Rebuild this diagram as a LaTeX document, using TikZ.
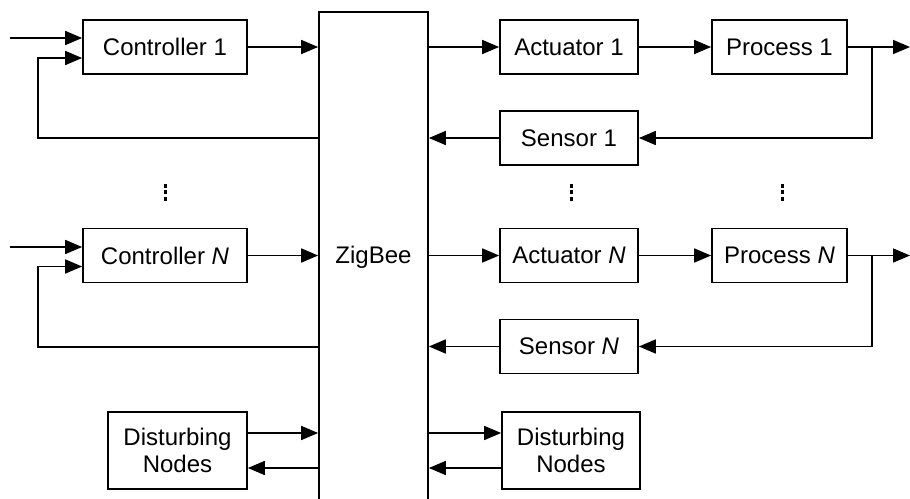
\documentclass[tikz,border=0pt]{standalone}
\usepackage{fontspec}
\setmainfont{Liberation Sans}
\usetikzlibrary{arrows.meta,calc}
\begin{document}
\begin{tikzpicture}[x=1pt,y=-1pt,
  every node/.style={font=\fontsize{24}{27}\selectfont},
  blk/.style={draw,line width=1.7pt,minimum height=54pt,inner sep=0pt,align=center},
  conn/.style={line width=1.7pt},
  arr/.style={conn,-{Triangle[length=17pt,width=14pt]}},
  vdot/.style={fill,rectangle,inner sep=0pt,minimum width=3pt,minimum height=4pt}]
\clip (0,0) rectangle (910,498);
% ZigBee
\node[draw,line width=1.7pt,minimum width=109pt,minimum height=510pt,inner sep=0pt,anchor=north] (zb) at (373.5,11) {};
\node (zbl) at (373.5,257) {ZigBee};
% row 1
\node[blk,minimum width=164pt] (c1) at (165,47) {Controller 1};
\node[blk,minimum width=138pt] (a1) at (569,47) {Actuator 1};
\node[blk,minimum width=135pt] (p1) at (779.5,47) {Process 1};
\node[blk,minimum width=138pt] (s1) at (569,138) {Sensor 1};
% row N
\node[blk,minimum width=164pt] (cN) at (165,255.5) {Controller \textit{N}};
\node[blk,minimum width=138pt] (aN) at (569,255.5) {Actuator \textit{N}};
\node[blk,minimum width=135pt] (pN) at (779.5,255.5) {Process \textit{N}};
\node[blk,minimum width=138pt] (sN) at (569,346.5) {Sensor \textit{N}};
% disturbing
\node[blk,minimum width=139pt,minimum height=77pt] (d1) at (177.5,450.5) {Disturbing\\Nodes};
\node[blk,minimum width=138pt,minimum height=77pt] (d2) at (571,450.5) {Disturbing\\Nodes};
% dots
\foreach \x/\n in {165/a,571/b,782/c}{
  \node[vdot] (dt\n1) at (\x,185.5) {};
  \node[vdot] (dt\n2) at (\x,192) {};
  \node[vdot] (dt\n3) at (\x,198.5) {};
}
% coordinates
\coordinate (in1) at (10,38);
\coordinate (inN) at (10,247);
\coordinate (fb1) at (38,138);
\coordinate (fbN) at (38,347);
\coordinate (br1) at (872,47);
\coordinate (brN) at (872,255.5);
\coordinate (out1) at (910,47);
\coordinate (outN) at (910,255.5);
% row 1 connectors
\draw[arr] (in1) -- (in1 -| c1.west);
\draw[arr] (zb.west |- fb1) -- (fb1) |- ($(c1.west)+(0,11)$);
\draw[arr] (c1.east) -- (c1.east -| zb.west);
\draw[arr] (zb.east |- a1) -- (a1.west);
\draw[arr] (a1.east) -- (p1.west);
\draw[arr] (p1.east) -- (out1);
\draw[arr] (br1) |- (s1.east);
\draw[arr] (s1.west) -- (s1.west -| zb.east);
% row N connectors
\draw[arr] (inN) -- (inN -| cN.west);
\draw[arr] (zb.west |- fbN) -- (fbN) |- ($(cN.west)+(0,11)$);
\draw[arr] (cN.east) -- (cN.east -| zb.west);
\draw[arr] (zb.east |- aN) -- (aN.west);
\draw[arr] (aN.east) -- (pN.west);
\draw[arr] (pN.east) -- (outN);
\draw[arr] (brN) |- (sN.east);
\draw[arr] (sN.west) -- (sN.west -| zb.east);
% disturbing connectors
\draw[arr] ($(d1.east)+(0,-17.5)$) -- ($(d1.east -| zb.west)+(0,-17.5)$);
\draw[arr] ($(d1.east -| zb.west)+(0,17.5)$) -- ($(d1.east)+(0,17.5)$);
\draw[arr] ($(d2.west -| zb.east)+(0,-17.5)$) -- ($(d2.west)+(0,-17.5)$);
\draw[arr] ($(d2.west)+(0,17.5)$) -- ($(d2.west -| zb.east)+(0,17.5)$);
\end{tikzpicture}
\end{document}
